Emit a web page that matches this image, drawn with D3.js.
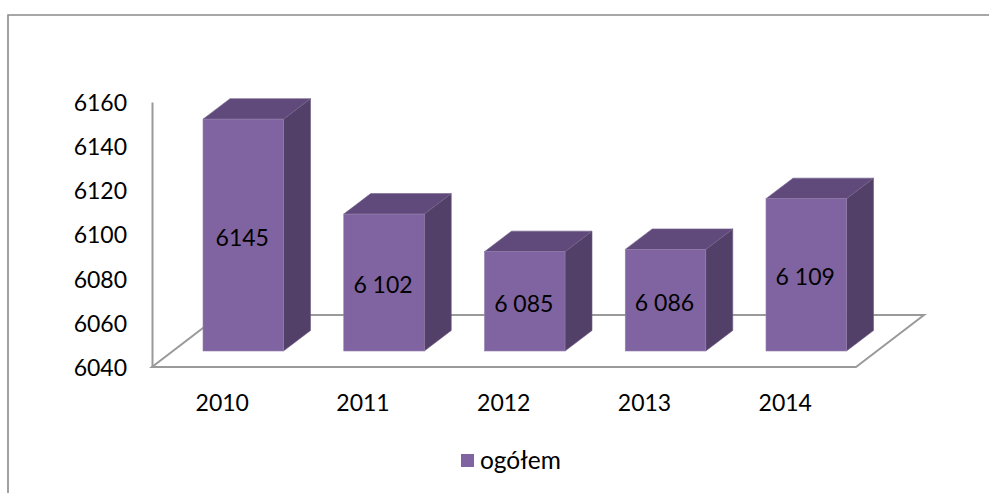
<!DOCTYPE html>
<html><head><meta charset="utf-8">
<style>html,body{margin:0;padding:0;background:#fff}svg{display:block}text{font-family:Lato,"Open Sans",sans-serif;fill:#000}</style>
<script src="https://cdn.jsdelivr.net/npm/d3@7"></script></head>
<body><svg id="c" width="989" height="493"></svg>
<script>
const years = ["2010","2011","2012","2013","2014"];
const values = [6145,6102,6085,6086,6109];
const valueLabels = ["6145","6 102","6 085","6 086","6 109"];
const yTicks = [6040,6060,6080,6100,6120,6140,6160];
const seriesName = "ogółem";

const svg = d3.select("#c");
const fs = 23;
const frameC = "#8a8a8a", axisC = "#9a9a9a";
const depthX = 27, depthY = 20.5;
const baseFront = 351, axisBottom = 367, axisTop = 102;

// frame
svg.append("path").attr("d","M989,15H8V493").attr("fill","none").attr("stroke",frameC).attr("stroke-width",1.6);

const yAxisS = d3.scaleLinear().domain([6040,6160]).range([axisBottom,axisTop]);
const yBar = d3.scaleLinear().domain([6040,6160]).range([baseFront,baseFront-(axisBottom-axisTop)]);
const x = d3.scaleBand().domain(years).range([203,846.5]).paddingInner(0.428).paddingOuter(0);
// floor
const floorX0 = 152, floorX1 = 856, floorBack = 315, floorDx = 68;
svg.append("path").attr("d",`M${floorX0},${axisBottom}H${floorX1}L${floorX1+floorDx},${floorBack}H${floorX0+floorDx}Z`)
  .attr("fill","none").attr("stroke",axisC).attr("stroke-width",2);

// value axis
const gy = svg.append("g").attr("transform",`translate(${floorX0},1)`)
  .call(d3.axisLeft(yAxisS).tickValues(yTicks).tickSize(0).tickPadding(25).tickFormat(d3.format("d")));
gy.select(".domain").attr("stroke",axisC).attr("stroke-width",2).attr("transform","translate(0,-1)");
gy.selectAll("text").attr("font-size",fs).attr("fill","#000").style("font-family","Lato");

// category axis
const gx = svg.append("g").attr("transform",`translate(-21,${axisBottom})`)
  .call(d3.axisBottom(x).tickSize(0).tickPadding(21));
gx.select(".domain").remove();
gx.selectAll("text").attr("font-size",fs).attr("fill","#000").style("font-family","Lato").attr("dy","1.0em");

// bars
const bars = svg.append("g").selectAll("g").data(years.map((y,i)=>({y,v:values[i],l:valueLabels[i]}))).join("g");
bars.append("path").attr("fill","#534068").attr("stroke","#6d5a85").attr("stroke-width",.6)
  .attr("d",d=>{const r=x(d.y)+x.bandwidth(),t=yBar(d.v);return `M${r},${t}l${depthX},${-depthY}V${baseFront-depthY}L${r},${baseFront}Z`;});
bars.append("path").attr("fill","#604a7b").attr("stroke","#74618c").attr("stroke-width",.6)
  .attr("d",d=>{const l=x(d.y),r=l+x.bandwidth(),t=yBar(d.v);return `M${l},${t}l${depthX},${-depthY}H${r+depthX}L${r},${t}Z`;});
bars.append("rect").attr("fill","#8064a2").attr("stroke","#9580ad").attr("stroke-width",.6)
  .attr("x",d=>x(d.y)).attr("width",x.bandwidth())
  .attr("y",d=>yBar(d.v)).attr("height",d=>baseFront-yBar(d.v));
bars.append("text").attr("font-size",fs).attr("text-anchor","middle").attr("dominant-baseline","central")
  .attr("x",d=>x(d.y)+x.bandwidth()/2-1)
  .attr("y",d=>(yBar(d.v)+baseFront)/2+1.5).text(d=>d.l);

// legend
svg.append("rect").attr("x",461).attr("y",454).attr("width",13).attr("height",13).attr("fill","#8064a2");
svg.append("text").attr("x",480).attr("y",469).attr("font-size",24.5).text(seriesName);
</script></body></html>
